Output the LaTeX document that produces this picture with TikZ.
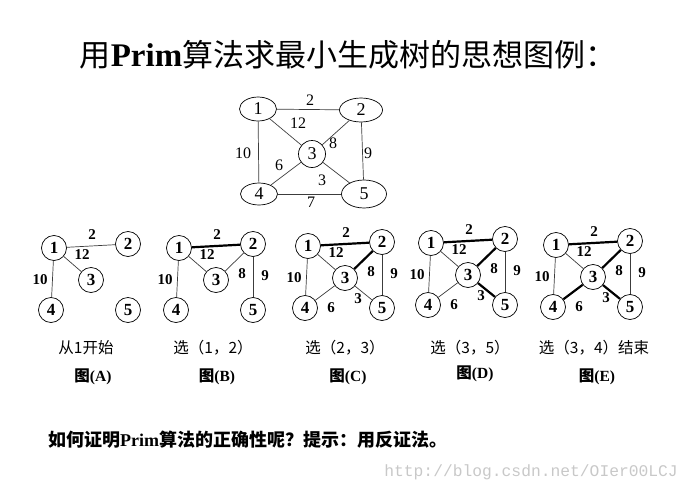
\documentclass[tikz,border=0pt]{standalone}
\usepackage{fontspec}
\usepackage{tikz}
\usetikzlibrary{shapes.geometric}
\setmainfont{Liberation Serif}
\newfontfamily\cjk{Noto Sans CJK SC}
\newfontfamily\wmfont{Liberation Mono}
\definecolor{markGray}{RGB}{200,200,200}
\definecolor{lineGray}{RGB}{60,60,60}

\tikzset{
  vtx/.style={draw, circle, inner sep=0pt, minimum size=25pt, line width=0.7pt,
    font=\fontsize{17}{17}\selectfont\bfseries},
  oval/.style={draw, ellipse, inner sep=0pt, line width=0.7pt,
    font=\fontsize{18}{18}\selectfont},
  edge/.style={draw=lineGray, line width=0.7pt},
  tree/.style={draw, line width=2.2pt},
  wt/.style={inner sep=0pt, font=\fontsize{16}{16}\selectfont},
  swt/.style={inner sep=0pt, font=\fontsize{15}{15}\selectfont\bfseries},
  captext/.style={inner sep=0pt, font=\fontsize{15.5}{15.5}\selectfont\cjk},
}

\begin{document}
\begin{tikzpicture}[x=1pt, y=-1pt]
\useasboundingbox (0,0) rectangle (689,493);

% Title
\node (title) at (348,55) {\fontsize{31}{31}\selectfont\cjk 用{\rmfamily\bfseries\fontsize{33}{33}\selectfont Prim}算法求最小生成树的思想图例：};

% Full graph
\node[oval, minimum width=37pt, minimum height=24pt] (g1) at (258,109) {1};
\node[oval, minimum width=43pt, minimum height=24pt] (g2) at (361,110) {2};
\node[oval, circle, minimum size=27pt] (g3) at (312,154) {3};
\node[oval, minimum width=37pt, minimum height=22pt] (g4) at (259,194) {4};
\node[oval, minimum width=45pt, minimum height=28pt] (g5) at (364,194) {5};
\foreach \u/\v in {1/2, 1/3, 1/4, 2/3, 2/5, 3/4, 3/5, 4/5}
    \draw[edge] (g\u) -- (g\v);
\foreach \w/\x/\y in {2/310/100, 12/298/123, 8/333/143, 9/368/153,
                      10/243/153, 6/279/165, 3/322/180, 7/311/202}
    \node[wt] at (\x,\y) {\w};

% Five small graphs
\foreach \g/\x/\y in {a/54/248, b/179/248, c/308/246, d/431/243, e/556/245} {
  \begin{scope}[shift={(\x,\y)}]
    \node[vtx] (\g1) at (0,0) {1};
    \node[vtx] (\g2) at (74,-4) {2};
    \node[vtx] (\g3) at (37,32) {3};
    \node[vtx] (\g4) at (-3,62) {4};
    \node[vtx] (\g5) at (74,62) {5};
    \node[swt] at (38,-13) {2};
    \node[swt] at (28,7) {12};
    \node[swt] at (-14,32) {10};
  \end{scope}
}
\foreach \g/\x/\y in {b/179/248, c/308/246, d/431/243, e/556/245} {
  \begin{scope}[shift={(\x,\y)}]
    \node[swt] at (63,26) {8};
    \node[swt] at (86,28) {9};
  \end{scope}
}
\foreach \g/\x/\y in {c/308/246, d/431/243, e/556/245} {
  \begin{scope}[shift={(\x,\y)}]
    \node[swt] at (23,62) {6};
    \node[swt] at (50,53) {3};
  \end{scope}
}

% Edges of each step
\foreach \u/\v in {1/2, 1/3, 1/4} \draw[edge] (a\u) -- (a\v);
\foreach \u/\v in {1/3, 1/4, 2/3, 2/5} \draw[edge] (b\u) -- (b\v);
\draw[tree] (b1) -- (b2);
\foreach \u/\v in {1/3, 1/4, 2/5, 3/4, 3/5} \draw[edge] (c\u) -- (c\v);
\foreach \u/\v in {1/2, 2/3} \draw[tree] (c\u) -- (c\v);
\foreach \u/\v in {1/3, 1/4, 2/5, 3/4} \draw[edge] (d\u) -- (d\v);
\foreach \u/\v in {1/2, 2/3, 3/5} \draw[tree] (d\u) -- (d\v);
\foreach \u/\v in {1/3, 1/4, 2/5} \draw[edge] (e\u) -- (e\v);
\foreach \u/\v in {1/2, 2/3, 3/5, 3/4} \draw[tree] (e\u) -- (e\v);

% Captions
\node[captext] (ca) at (86,348) {从1开始};
\node[captext] (cb) at (213,348) {选（1，2）};
\node[captext] (cc) at (345,348) {选（2，3）};
\node[captext] (cd) at (470,348) {选（3，5）};
\node[captext] (ce) at (594,348) {选（3，4）结束};
\foreach \n/\t/\x/\y in {fa/A/93/377, fb/B/217/377, fc/C/348/377, fd/D/475/374, fe/E/597/377}
    \node[captext, font=\fontsize{15.5}{15.5}\selectfont\cjk\bfseries] (\n) at (\x,\y) {图{\rmfamily(\t)}};

% Question and watermark
\node[anchor=west, inner sep=0pt] (ask) at (48,440)
    {\fontsize{18}{18}\selectfont\cjk\bfseries 如何证明{\rmfamily Prim}算法的正确性呢？提示：用反证法。};
\node[anchor=east, inner sep=0pt, text=markGray] (mark) at (678,472)
    {\fontsize{16.3}{16.3}\selectfont\wmfont http://blog.csdn.net/OIer00LCJ};
\end{tikzpicture}
\end{document}
